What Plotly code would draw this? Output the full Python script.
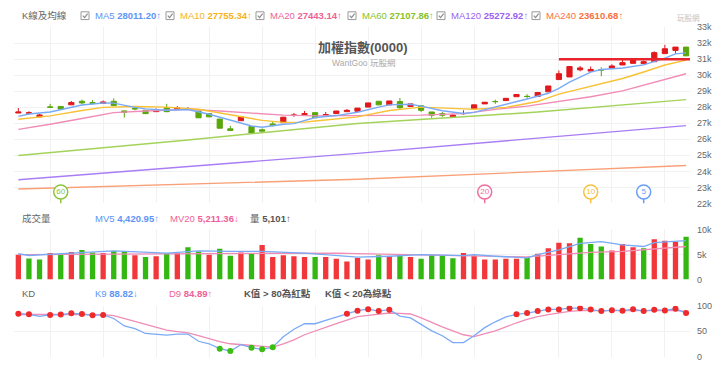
import plotly.graph_objects as go

# ---------------- data ----------------
opens = [27640, 27630, 27400, 28020, 28050, 28150, 28370, 28290, 28235, 28370,
         27770, 27915, 27810, 27725, 27965, 27845, 27870, 27766, 27600, 27262,
         26655, 27159, 26795, 26594, 26960, 27038, 27495, 27541, 27663, 27505,
         27602, 27723, 27747, 28009, 28372, 28148, 28354, 28050, 28090, 27705,
         27602, 27400, 27595, 27905, 28209, 28360, 28415, 28657, 28680, 28676,
         28961, 29726, 29890, 30333, 30254, 30340, 30436, 30636, 30739, 30721,
         30842, 31346, 31546, 31752]
highs = [27950, 27750, 27580, 28210, 28060, 28390, 28475, 28450, 28415, 28555,
         27780, 28050, 27810, 27930, 28210, 28070, 28010, 27766, 27600, 27262,
         26837, 27400, 26795, 26673, 27098, 27380, 27644, 27766, 27663, 27705,
         27766, 27887, 27948, 28270, 28372, 28393, 28573, 28209, 28090, 27705,
         27705, 27602, 27808, 28148, 28312, 28475, 28555, 28797, 28815, 28919,
         29325, 30296, 30539, 30575, 30539, 30496, 30678, 30982, 31042, 30921,
         31485, 31892, 31752, 31752]
lows = [27640, 27540, 27400, 27990, 27880, 28150, 28170, 28170, 28235, 28070,
        27360, 27810, 27600, 27725, 27690, 27845, 27860, 27341, 27400, 26692,
        26552, 27159, 26388, 26509, 26795, 27038, 27400, 27541, 27341, 27505,
        27602, 27723, 27747, 28009, 28148, 28148, 27905, 28050, 27705, 27341,
        27400, 27400, 27541, 27905, 28209, 28209, 28415, 28657, 28555, 28676,
        28961, 29726, 29890, 30236, 30254, 29932, 30436, 30636, 30739, 30721,
        30842, 31346, 31346, 31206]
closes = [27700, 27650, 27520, 28000, 27890, 28290, 28270, 28235, 28330, 28110,
          27690, 27900, 27600, 27845, 27725, 27950, 27900, 27341, 27400, 26692,
          26552, 27400, 26388, 26509, 26856, 27380, 27510, 27602, 27341, 27541,
          27766, 27808, 27948, 28270, 28148, 28393, 27966, 28209, 27808, 27505,
          27505, 27505, 27610, 28148, 28312, 28350, 28555, 28797, 28670, 28919,
          29325, 30090, 30539, 30454, 30357, 30325, 30575, 30781, 31042, 30842,
          31406, 31649, 31752, 31206]

ma5_idx = [0, 1, 3, 5, 6, 8, 9, 11, 12, 14, 16, 18, 20, 22, 23, 25, 26, 28, 30, 32,
           34, 35, 37, 38, 40, 42, 43, 44, 46, 48, 50, 51, 52, 54, 55, 57, 59, 60, 61, 62, 63]
ma5_val = [27430, 27580, 27705, 28000, 28140, 28260, 28255, 27990, 27900, 27808,
           27860, 27560, 27200, 26830, 26750, 26935, 26980, 27360, 27480, 27690,
           28010, 28150, 28190, 28070, 27780, 27610, 27680, 27840, 28200, 28512,
           28870, 29180, 29560, 30190, 30350, 30450, 30640, 30860, 31060, 31330, 31388]
ma10_idx = [0, 3, 6, 8, 11, 14, 17, 20, 23, 25, 27, 28, 30, 32, 35, 38, 42, 43, 46,
            49, 51, 54, 57, 59, 61, 63]
ma10_val = [27250, 27463, 27800, 27990, 28050, 28009, 27870, 27530, 27180, 27056,
            27070, 27140, 27290, 27400, 27800, 28009, 27900, 27870, 27990, 28360,
            28815, 29300, 29790, 30200, 30636, 30939]
ma20_idx = [0, 3, 6, 9, 12, 16, 19, 22, 25, 28, 32, 35, 38, 42, 45, 48, 51, 54, 57, 60, 63]
ma20_val = [26620, 26935, 27300, 27663, 27766, 27869, 27766, 27644, 27505, 27463,
            27480, 27505, 27505, 27602, 27869, 28069, 28354, 28657, 29022, 29550, 30090]
ma60_idx = [0, 16, 32, 49, 63]
ma60_val = [24990, 25960, 26990, 27700, 28476]
ma120_idx = [0, 32, 63]
ma120_val = [23480, 25125, 26856]
ma240_idx = [0, 32, 63]
ma240_val = [22900, 23510, 24368]

volumes = [4961, 4186, 3992, 5291, 5097, 5485, 5872, 5420, 5291, 5678,
           5678, 4845, 4515, 4651, 5291, 5291, 6453, 5614, 4961, 6130,
           4770, 5420, 5291, 6905, 4515, 4845, 4651, 4515, 4515, 4515,
           4128, 3605, 4321, 3992, 4845, 4651, 4961, 4515, 4128, 4961,
           4770, 4263, 5291, 4770, 3992, 3992, 4128, 4128, 4321, 5162,
           6260, 7365, 7236, 8333, 7090, 6590, 5814, 7090, 6453, 6260,
           8062, 7752, 7558, 8527]
vol_up = [1, 0, 0, 1, 0, 1, 0, 0, 1, 0, 0, 1, 0, 1, 0, 1, 0, 0, 1, 0,
          0, 1, 0, 1, 1, 1, 1, 1, 0, 1, 1, 1, 1, 1, 0, 1, 0, 1, 0, 0,
          0, 0, 1, 1, 1, 1, 1, 1, 0, 1, 1, 1, 1, 0, 0, 0, 1, 1, 1, 0,
          1, 1, 1, 0]
mv5_idx = [0, 1, 5, 9, 14, 17, 20, 23, 27, 30, 32, 35, 38, 42, 43, 45, 48, 49, 51,
           53, 55, 57, 59, 60, 63]
mv5_val = [5150, 4800, 5290, 5740, 5290, 5740, 5620, 5620, 5290, 4770, 4460, 4650,
           4960, 4770, 4960, 4650, 4320, 4960, 5930, 7230, 7560, 6900, 6590, 7360, 7750]
mv20_idx = [0, 14, 30, 32, 38, 45, 48, 51, 54, 57, 60, 63]
mv20_val = [4960, 5155, 5290, 5155, 4961, 4651, 4520, 4961, 5420, 5620, 6130, 6589]

k_vals = [84.7, 83.4, 79.5, 82.1, 82.8, 85.3, 84.0, 81.5, 82.1, 75.2,
          60.5, 55.3, 45.8, 44.7, 42.7, 44.7, 44.7, 30.5, 25.6, 16.0,
          11.5, 23.7, 17.9, 14.7, 19.0, 39.5, 54.2, 64.9, 64.9, 71.4,
          77.7, 84.7, 90.5, 93.5, 89.7, 92.4, 80.0, 76.3, 63.7, 51.0,
          41.4, 28.0, 28.0, 41.4, 57.3, 68.7, 78.3, 83.4, 85.9, 89.7,
          92.9, 92.9, 95.4, 95.4, 92.9, 89.7, 91.6, 90.5, 93.5, 89.7,
          92.4, 91.0, 94.3, 85.9]
d_vals = [83.0, 83.2, 82.5, 82.3, 82.4, 83.0, 83.3, 82.9, 82.8, 80.8,
          75.2, 70.0, 63.7, 57.3, 52.2, 49.6, 47.1, 41.4, 35.1, 30.0,
          25.6, 24.2, 22.3, 20.4, 19.1, 25.6, 33.2, 43.3, 51.0, 57.3,
          64.9, 71.9, 79.0, 81.5, 84.0, 86.0, 85.3, 84.0, 76.3, 66.8,
          58.6, 51.0, 43.3, 39.5, 44.7, 51.0, 58.6, 66.8, 73.3, 79.0,
          82.8, 85.9, 89.1, 90.5, 90.5, 90.0, 90.0, 90.0, 90.0, 90.0,
          90.5, 90.5, 90.5, 89.0]

grid_idx = [3, 8, 13, 18, 23, 28, 33, 38, 43, 51, 56, 61]
price_ticks = [22000, 23000, 24000, 25000, 26000, 27000, 28000, 29000, 30000, 31000, 32000, 33000]
price_labels = ["22k", "23k", "24k", "25k", "26k", "27k", "28k", "29k", "30k", "31k", "32k", "33k"]
vol_ticks = [0, 5000, 10000]
vol_labels = ["0", "5k", "10k"]
kd_ticks = [0, 50, 100]
kd_labels = ["0", "50", "100"]
ma_windows = [60, 20, 10, 5]
resistance_level = 31000
resistance_start = 51

# ---------------- style ----------------
W, H = 720, 366
FONT = "Liberation Sans, Noto Sans CJK TC, sans-serif"
RED, GREEN = "#e0191c", "#5aa60c"
VRED, VGREEN = "#f2373a", "#33b711"
C = {"MA5": "#7aaaf6", "MA10": "#f8c136", "MA20": "#f08cb6",
     "MA60": "#a3d35a", "MA120": "#a97df5", "MA240": "#f9a076"}
TC = {"MA5": "#5e94f5", "MA10": "#f5b21c", "MA20": "#ef5f97",
      "MA60": "#84c12d", "MA120": "#9b5ff5", "MA240": "#f8703e"}
GRID = "#f1f1f1"
n = len(closes)
xs = list(range(n))
XR = [-0.41, n - 1 + 0.37]
XDOM = [14 / W, 690 / W]


def fx(px):
    return px / W


def fy(py):
    return 1 - py / H


fig = go.Figure()

# price panel
fig.add_trace(go.Candlestick(
    x=xs, open=opens, high=highs, low=lows, close=closes,
    increasing=dict(line=dict(color=RED, width=1), fillcolor=RED),
    decreasing=dict(line=dict(color=GREEN, width=1), fillcolor=GREEN),
    whiskerwidth=0, xaxis="x", yaxis="y", showlegend=False))

for name, idx, val in [("MA240", ma240_idx, ma240_val), ("MA120", ma120_idx, ma120_val),
                       ("MA60", ma60_idx, ma60_val), ("MA20", ma20_idx, ma20_val),
                       ("MA10", ma10_idx, ma10_val), ("MA5", ma5_idx, ma5_val)]:
    fig.add_trace(go.Scatter(x=idx, y=val, mode="lines", line=dict(color=C[name], width=1.4),
                             xaxis="x", yaxis="y", showlegend=False))

fig.add_trace(go.Scatter(x=[resistance_start, XR[1]], y=[resistance_level, resistance_level],
                         mode="lines", line=dict(color="#e8232b", width=2.5),
                         xaxis="x", yaxis="y", showlegend=False))

# MA window pins
ymin, ymax = price_ticks[0], price_ticks[-1]
pin_y = ymin + 0.065 * (ymax - ymin)
pin_colors = {60: "#8cc63f", 20: "#ef6f9f", 10: "#f9c23c", 5: "#6a9ef5"}
for w in ma_windows:
    px_i = n - w
    fig.add_trace(go.Scatter(x=[px_i, px_i], y=[ymin, pin_y], mode="lines",
                             line=dict(color=pin_colors[w], width=1.5),
                             xaxis="x", yaxis="y", showlegend=False))
    fig.add_trace(go.Scatter(x=[px_i], y=[pin_y], mode="markers+text", text=[str(w)],
                             textposition="middle center",
                             textfont=dict(color=pin_colors[w], size=8, family=FONT),
                             marker=dict(symbol="circle", size=14, color="white",
                                         line=dict(color=pin_colors[w], width=1.5)),
                             xaxis="x", yaxis="y", showlegend=False))

# volume panel
fig.add_trace(go.Bar(x=xs, y=volumes, width=0.5,
                     marker=dict(color=[VRED if u else VGREEN for u in vol_up], line=dict(width=0)),
                     xaxis="x2", yaxis="y2", showlegend=False))
fig.add_trace(go.Scatter(x=mv20_idx, y=mv20_val, mode="lines", line=dict(color="#f08cb6", width=1.3),
                         xaxis="x2", yaxis="y2", showlegend=False))
fig.add_trace(go.Scatter(x=mv5_idx, y=mv5_val, mode="lines", line=dict(color="#7aaaf6", width=1.3),
                         xaxis="x2", yaxis="y2", showlegend=False))

# KD panel
fig.add_trace(go.Scatter(x=xs, y=d_vals, mode="lines", line=dict(color="#ef8cb6", width=1.3),
                         xaxis="x3", yaxis="y3", showlegend=False))
fig.add_trace(go.Scatter(x=xs, y=k_vals, mode="lines", line=dict(color="#7aaaf6", width=1.3),
                         xaxis="x3", yaxis="y3", showlegend=False))
hi = [(i, k) for i, k in enumerate(k_vals) if k > 80]
lo = [(i, k) for i, k in enumerate(k_vals) if k < 20]
fig.add_trace(go.Scatter(x=[p[0] for p in hi], y=[p[1] for p in hi], mode="markers",
                         marker=dict(color="#ee2a2a", size=6), xaxis="x3", yaxis="y3", showlegend=False))
fig.add_trace(go.Scatter(x=[p[0] for p in lo], y=[p[1] for p in lo], mode="markers",
                         marker=dict(color="#3cbd12", size=6), xaxis="x3", yaxis="y3", showlegend=False))

xcommon = dict(range=XR, domain=XDOM, showticklabels=False, tickvals=grid_idx,
               showgrid=True, gridcolor=GRID, gridwidth=1, zeroline=False, showline=False, ticks="",
               fixedrange=True)
ycommon = dict(side="right", showgrid=True, gridcolor=GRID, gridwidth=1, zeroline=False,
               showline=False, ticks="", ticklabelstandoff=6,
               tickfont=dict(size=9, color="#666", family=FONT), fixedrange=True)

fig.update_layout(
    width=W, height=H, margin=dict(l=0, r=0, t=0, b=0),
    paper_bgcolor="white", plot_bgcolor="white", hovermode=False, showlegend=False,
    font=dict(family=FONT),
    xaxis=dict(**xcommon, anchor="y", rangeslider=dict(visible=False)),
    xaxis2=dict(**xcommon, anchor="y2"),
    xaxis3=dict(**xcommon, anchor="y3"),
    yaxis=dict(**ycommon, anchor="x", domain=[fy(204), fy(22.7)], range=[ymin, ymax],
               tickvals=price_ticks, ticktext=price_labels),
    yaxis2=dict(**ycommon, anchor="x2", domain=[fy(282.3), fy(230.7)], range=[0, 10000],
                tickvals=vol_ticks, ticktext=vol_labels),
    yaxis3=dict(**ycommon, anchor="x3", domain=[fy(361.7), fy(309.3)], range=[0, 100],
                tickvals=kd_ticks, ticktext=kd_labels),
    bargap=0.5,
)

ann = []


def text(px, py, s, color, size=10, anchor="left"):
    ann.append(dict(x=fx(px), y=fy(py), xref="paper", yref="paper", text=s, showarrow=False,
                    xanchor=anchor, yanchor="middle", font=dict(size=size, color=color, family=FONT)))


shapes = []


def checkbox(px, py):
    s = 8
    shapes.append(dict(type="rect", xref="paper", yref="paper", x0=fx(px), x1=fx(px + s),
                       y0=fy(py + s / 2), y1=fy(py - s / 2), line=dict(color="#999", width=1),
                       fillcolor="white"))
    path = "M {} {} L {} {} L {} {}".format(fx(px + 1.8), fy(py), fx(px + 3.6), fy(py + 2),
                                            fx(px + 6.6), fy(py - 2.2))
    shapes.append(dict(type="path", xref="paper", yref="paper", path=path,
                       line=dict(color="#888", width=1.1)))


# top legend row
text(20, 11, "K線及均線", "#666", 9.5)
legend_items = [("MA5", "28011.20", 81), ("MA10", "27755.34", 166), ("MA20", "27443.14", 256),
                ("MA60", "27107.86", 348), ("MA120", "25272.92", 437), ("MA240", "23610.68", 532)]
for name, val, cx in legend_items:
    checkbox(cx, 11)
    text(cx + 12, 11, "{} <b>{}</b>↑".format(name, val), TC[name], 9.5)

text(688, 13, "玩股網", "#c4c4c4", 7.5, anchor="center")

# title
text(363, 44, "<b>加權指數(0000)</b>", "#555", 13, anchor="center")
text(363, 60, "WantGoo 玩股網", "#aaa", 8.5, anchor="center")

# volume header
text(20, 219, "成交量", "#666", 9.5)
text(93, 219, "MV5 <b>4,420.95</b>↑", "#5e94f5", 9.5)
text(168, 219, "MV20 <b>5,211.36</b>↓", "#ef5f97", 9.5)
text(248, 219, "量 <b>5,101</b>↑", "#555", 9.5)

# KD header
text(20, 297, "KD", "#666", 9.5)
text(93, 297, "K9 <b>88.82</b>↓", "#5e94f5", 9.5)
text(167, 297, "D9 <b>84.89</b>↑", "#ef5f97", 9.5)
text(242, 297, "<b>K值 &gt; 80為紅點</b>", "#555", 9.5)
text(323, 297, "<b>K值 &lt; 20為綠點</b>", "#555", 9.5)

fig.update_layout(annotations=ann, shapes=shapes)
fig.write_html("out.html", config={"displayModeBar": False},
               post_script="document.body.style.margin='0';document.body.style.overflow='hidden';")
